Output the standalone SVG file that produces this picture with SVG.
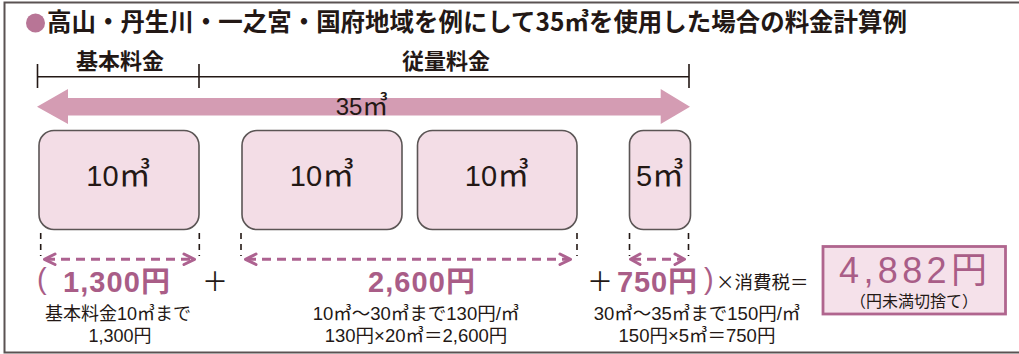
<svg xmlns="http://www.w3.org/2000/svg" width="1019" height="354" viewBox="0 0 1019 354">
<style>
.jp{font-family:"Liberation Sans","Noto Sans CJK JP",sans-serif;}
.cjk{font-family:"Noto Sans CJK JP",sans-serif;}
.dark{fill:#231815;}
.pink{fill:#a95d87;}
.box{fill:#f3dde6;stroke:#5b5555;stroke-width:1.6;}
.tick{stroke:#231815;stroke-width:1.6;fill:none;}
.dtick{stroke:#231815;stroke-width:1.6;stroke-dasharray:6 5;fill:none;}
.darr{stroke:#ad6290;stroke-width:3;stroke-dasharray:9 6;fill:none;}
.head{stroke:#ad6290;stroke-width:3;fill:none;stroke-linecap:round;stroke-linejoin:round;}
</style>
<rect width="1019" height="354" fill="#ffffff"/>
<!-- frame -->
<path d="M1019 2.5 H4.5 V352.5 H1019" fill="none" stroke="#5a5252" stroke-width="2"/>

<g id="title">
<circle cx="35.5" cy="23" r="9.5" fill="#b87596"/>
<text class="cjk dark" x="47" y="31" font-size="25" font-weight="700" textLength="860" lengthAdjust="spacingAndGlyphs">高山・丹生川・一之宮・国府地域を例にして35㎥を使用した場合の料金計算例</text>
</g>

<g id="headers">
<text class="cjk dark" x="120" y="68.5" font-size="22" font-weight="700" text-anchor="middle">基本料金</text>
<text class="cjk dark" x="446" y="68.5" font-size="22" font-weight="700" text-anchor="middle">従量料金</text>
<path class="tick" d="M37.5 76.7 H689 M37.5 64 V88 M199 64 V88 M689 64 V88"/>
</g>

<g id="connectors">
<path d="M37 106.7 L68 89 L68 98 L660.7 98 L660.7 89 L690 106.7 L660.7 124 L660.7 115.5 L68 115.5 L68 124 Z" fill="#d49cb3"/>
<path class="dtick" d="M40.7 233 V256 M199.3 233 V256 M241 233 V256 M577 233 V256 M629.5 233 V256 M688.5 233 V256"/>
<path class="darr" d="M46 259.3 H193"/>
<path class="head" d="M55 254 L44.5 259.3 L55 264.5 M184 254 L194.5 259.3 L184 264.5"/>
<path class="darr" d="M247 259.3 H569"/>
<path class="head" d="M256 254 L245.5 259.3 L256 264.5 M560 254 L570.5 259.3 L560 264.5"/>
<path class="darr" d="M632 259.3 H683"/>
<path class="head" d="M640 254 L630.5 259.3 L640 264.5 M675 254 L684.5 259.3 L675 264.5"/>
</g>

<text class="jp dark" x="362" y="115" font-size="24" text-anchor="middle">35<tspan font-size="26">㎥</tspan></text>

<g id="node-basic">
<rect class="box" x="39" y="130.5" width="160" height="99" rx="15"/>
<text class="jp dark" x="118.5" y="186" font-size="29" text-anchor="middle">10<tspan font-size="32">㎥</tspan></text>
</g>
<g id="node-usage1">
<rect class="box" x="242" y="130.5" width="160" height="99" rx="15"/>
<text class="jp dark" x="322" y="186" font-size="29" text-anchor="middle">10<tspan font-size="32">㎥</tspan></text>
</g>
<g id="node-usage2">
<rect class="box" x="417.5" y="130.5" width="159.5" height="99" rx="15"/>
<text class="jp dark" x="497" y="186" font-size="29" text-anchor="middle">10<tspan font-size="32">㎥</tspan></text>
</g>
<g id="node-usage3">
<rect class="box" x="629.5" y="130.5" width="61" height="99" rx="14"/>
<text class="jp dark" x="660" y="186" font-size="29" text-anchor="middle">5<tspan font-size="32">㎥</tspan></text>
</g>

<g id="calc">
<text class="jp pink" x="37" y="289" font-size="29">(</text>
<text class="jp pink" x="63" y="291.7" font-size="29" font-weight="bold" textLength="107" lengthAdjust="spacing">1,300円</text>
<text class="cjk dark" x="215" y="291" font-size="26" text-anchor="middle">＋</text>
<text class="jp pink" x="368" y="291.7" font-size="29" font-weight="bold" textLength="107" lengthAdjust="spacing">2,600円</text>
<text class="cjk dark" x="600" y="291" font-size="26" text-anchor="middle">＋</text>
<text class="jp pink" x="617" y="291.7" font-size="29" font-weight="bold" textLength="80" lengthAdjust="spacing">750円</text>
<text class="jp pink" x="704" y="289" font-size="29">)</text>
<text class="cjk dark" x="716" y="289" font-size="18.5">×消費税＝</text>

<text class="jp dark" x="118" y="320" font-size="18" text-anchor="middle">基本料金10㎥まで</text>
<text class="jp dark" x="120" y="341.7" font-size="18" text-anchor="middle">1,300円</text>
<text class="jp dark" x="416" y="320" font-size="18.5" text-anchor="middle">10㎥～30㎥まで130円/㎥</text>
<text class="jp dark" x="416" y="341.7" font-size="18.5" text-anchor="middle">130円×20㎥＝2,600円</text>
<text class="jp dark" x="697" y="320" font-size="18.5" text-anchor="middle">30㎥～35㎥まで150円/㎥</text>
<text class="jp dark" x="697" y="341.7" font-size="18.5" text-anchor="middle">150円×5㎥＝750円</text>
</g>

<g id="node-total">
<rect x="823" y="246.5" width="182.5" height="67.5" fill="#f5e1ea" stroke="#b0658e" stroke-width="2.8"/>
<text class="jp pink" x="839" y="283" font-size="36" textLength="148" lengthAdjust="spacing">4,882円</text>
<text class="cjk dark" x="914" y="306.5" font-size="16" text-anchor="middle">（円未満切捨て）</text>
</g>
</svg>
